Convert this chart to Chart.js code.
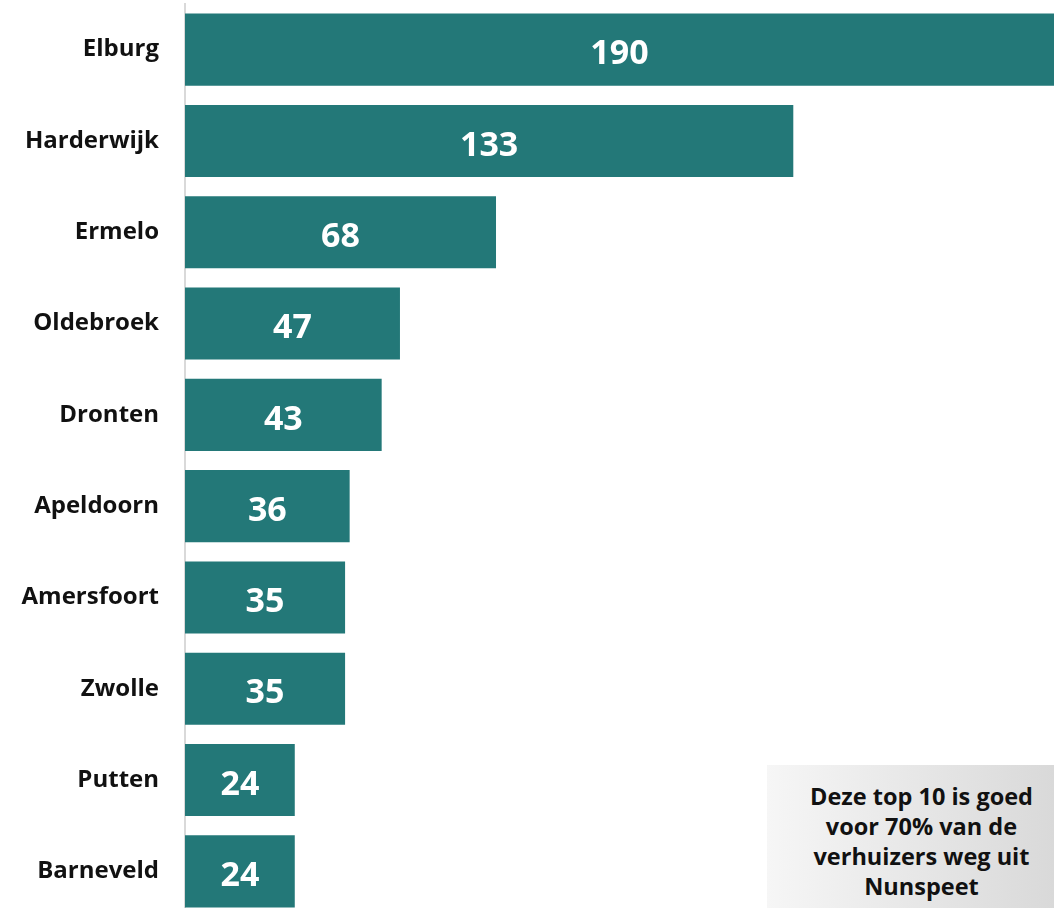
<!DOCTYPE html>
<html>
<head>
<meta charset="utf-8">
<script src="https://cdn.jsdelivr.net/npm/chart.js@4"></script>
<style>
  html, body { margin:0; padding:0; background:#fff; overflow:hidden; }
  #wrap { position:relative; width:1054px; height:917px; }
  #note {
    position:absolute; left:767px; top:765px; width:287px; height:152px;
    background:linear-gradient(to right, #f6f6f6, #d9d9d9);
    font-family: "Open Sans", Lato, sans-serif; font-weight:700; font-size:23.5px;
    line-height:30px; color:#111; text-align:center; box-sizing:border-box; padding-top:16px; padding-left:22px;
    white-space:nowrap;
  }
</style>
</head>
<body>
<div id="wrap">
  <canvas id="c" width="1054" height="917"></canvas>
  <div id="note">Deze top 10 is goed<br>voor 70% van de<br>verhuizers weg uit<br>Nunspeet</div>
</div>
<script>
const categories = ["Elburg","Harderwijk","Ermelo","Oldebroek","Dronten","Apeldoorn","Amersfoort","Zwolle","Putten","Barneveld"];
const values = [190,133,68,47,43,36,35,35,24,24];

const barLabels = {
  id: 'barLabels',
  afterDatasetsDraw(chart) {
    const ctx = chart.ctx;
    const meta = chart.getDatasetMeta(0);
    ctx.save();
    ctx.fillStyle = '#ffffff';
    ctx.font = 'bold 34px "Open Sans", Lato, sans-serif';
    ctx.textAlign = 'center';
    ctx.textBaseline = 'middle';
    meta.data.forEach((bar, i) => {
      const cx = (bar.x + bar.base) / 2;
      ctx.fillText(String(values[i]), cx, bar.y + 5);
    });
    ctx.restore();
  }
};

new Chart(document.getElementById('c'), {
  type: 'bar',
  data: {
    labels: categories,
    datasets: [{
      data: values,
      backgroundColor: '#237878',
      borderWidth: 0,
      barPercentage: 0.79,
      categoryPercentage: 1.0
    }]
  },
  options: {
    indexAxis: 'y',
    responsive: false,
    animation: false,
    layout: { padding: { top: 4, bottom: 0, left: 0, right: 0 } },
    plugins: { legend: { display: false }, tooltip: { enabled: false } },
    scales: {
      x: { display: false, min: 0, max: 190 },
      y: {
        grid: { display: false, drawTicks: false },
        border: { display: true, color: '#d9d9d9', width: 2 },
        ticks: {
          color: '#111111',
          padding: 26,
          font: { family: '"Open Sans", Lato, sans-serif', weight: 'bold', size: 24 }
        },
        afterFit(scale) { scale.width = 185; scale.paddingTop = 0; scale.paddingBottom = 0; }
      }
    }
  },
  plugins: [barLabels]
});
</script>
</body>
</html>
